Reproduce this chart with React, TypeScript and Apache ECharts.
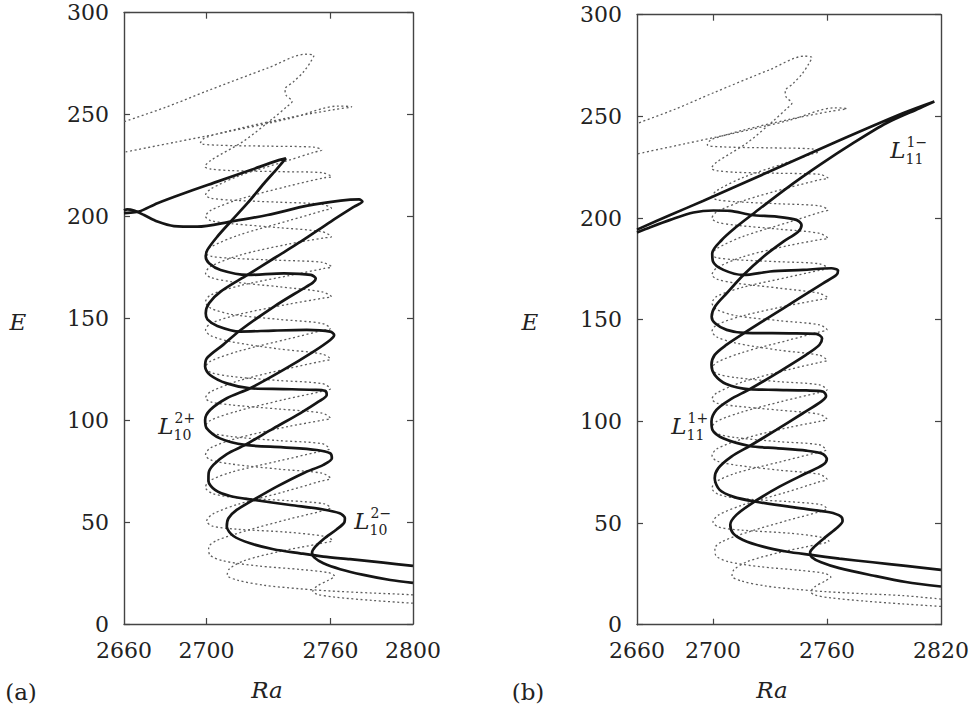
import React, { useEffect, useRef } from "react";
import * as echarts from "echarts";

// ---------- axis data ----------
const xLabelsA = [2660, 2700, 2760, 2800];
const xLabelsB = [2660, 2700, 2760, 2820];
const xTicks = [2700, 2760];
const yMin = 0;
const yMax = 300;
const yStep = 50;

// ---------- solid branches, panel (a) ----------
const solidA_a: number[][] = [
  [2800, 20.2], [2789, 21.6], [2776, 24.1], [2764.7, 26.9], [2756.6, 29.8], [2752.1, 32.7], [2751.1, 35], [2752.6, 37.8],
  [2756.6, 41.6], [2763.1, 46.5], [2766.8, 50], [2767, 52], [2764.5, 54.3], [2756.6, 56.2], [2740.5, 58.4], [2722.7, 60.9],
  [2711.4, 62.8], [2704.1, 65.8], [2700.9, 70.2], [2701, 74], [2703.3, 78.1], [2709.8, 83.4], [2718.7, 87.9], [2732.4, 96.0],
  [2745.3, 103.4], [2754.2, 109.1], [2758.2, 112.4], [2757.4, 114.4], [2751.8, 114.9], [2737.2, 115.3], [2721.1, 115.7],
  [2709.8, 118.1], [2701.7, 122.2], [2699.3, 126.3], [2700.1, 130.4], [2708, 137], [2716.5, 144.3], [2732.7, 155.8],
  [2745.6, 163.9], [2751.5, 167.5], [2752.9, 169.5], [2750.5, 171.3], [2737.5, 172.1], [2719.8, 171.3], [2706.8, 173.7],
  [2701.2, 177], [2699.6, 180.3], [2700.4, 183.6], [2705.2, 190.1], [2711.7, 197.5], [2719.8, 206.5], [2727.9, 216.3],
  [2734.3, 223.6], [2738.4, 228.5], [2734.3, 227.4], [2721.4, 222.8], [2705.2, 217.1], [2689.1, 211.4], [2676.2, 206.5],
  [2667.3, 202.4], [2663.2, 201.9], [2660, 201.6],
];
const solidB_a: number[][] = [
  [2800, 28.5], [2785.7, 30.1], [2769.5, 31.8], [2756.6, 33.1], [2745.3, 34.7], [2732.4, 36.7], [2721.1, 39.6], [2713, 43.2],
  [2709.8, 47.8], [2710.6, 51.9], [2714.6, 56.0], [2722.7, 60.9], [2734, 67.4], [2746.9, 74.0], [2756.6, 78.1], [2760.7, 81.3],
  [2759.9, 83.8], [2753.4, 85.4], [2737.2, 86.7], [2718.7, 87.9], [2706.5, 91.1], [2700.1, 96.0], [2699.3, 100.1],
  [2701.7, 105.0], [2709.8, 110.8], [2721.1, 115.7], [2737.2, 124.7], [2751.8, 133.7], [2759.9, 139.4], [2761.8, 141.8],
  [2759.9, 143.5], [2748.5, 144.3], [2732.4, 144.0], [2716.2, 143.5], [2705.2, 146.3], [2700.4, 149.5], [2699.6, 152.5],
  [2701.2, 157.4], [2706.8, 163.1], [2719.8, 171.3], [2732.7, 179.5], [2745.6, 187.6], [2760.2, 197.5], [2771.5, 204.8],
  [2775.5, 207.3], [2773.9, 208.4], [2765, 207.8], [2748.9, 205.3], [2729.5, 200.7], [2711.7, 197.5], [2695.5, 195],
  [2684.2, 195.3], [2676.2, 197.5], [2669.7, 200.7], [2664.8, 202.9], [2661.6, 203.5], [2660, 202.9],
];

// ---------- solid branches, panel (b) ----------
const solidA_b: number[][] = [
  [2820, 18.8], [2801.5, 21.0], [2784, 24.2], [2766.5, 27.8], [2756.9, 30.7], [2752, 33.2], [2751.1, 35.5], [2753.4, 38.4],
  [2759.5, 43.3], [2765.6, 47.9], [2768.2, 51.0], [2767.4, 53.2], [2761.3, 55.3], [2745.5, 57.3], [2721.9, 60.6],
  [2710.5, 63.0], [2703.5, 66.3], [2700.9, 72.0], [2702.7, 76.9], [2709.7, 82.7], [2719.3, 87.9], [2733.3, 95.8],
  [2747.3, 104.0], [2756.9, 109.7], [2759.5, 112.5], [2757.8, 114.7], [2749, 115.2], [2733.3, 115.5], [2719.3, 115.8],
  [2707, 118.4], [2700.9, 122.9], [2699.2, 127.8], [2700.9, 132.7], [2707, 137.6], [2716.5, 143.5], [2730, 151.5],
  [2744, 159.7], [2757.9, 167.9], [2764.9, 172.0], [2765.8, 174.2], [2762.3, 175.3], [2747.4, 174.5], [2730, 173.7],
  [2716, 172.0], [2705.5, 174.5], [2700, 178.6], [2699.6, 182.7], [2704.6, 189.2], [2712.5, 195.8], [2720.3, 201.5],
  [2738.7, 214.6], [2756.2, 226.1], [2773.7, 236.8], [2791.2, 246.6], [2808.7, 254.0], [2816.5, 257.3], [2799.9, 251.5],
  [2764.9, 237.5], [2730, 223], [2695, 208.5], [2677.5, 201.5], [2660, 194.3],
];
const solidB_b: number[][] = [
  [2820, 27.0], [2801.5, 28.9], [2784, 30.7], [2766.5, 32.5], [2751.6, 34.3], [2738.5, 36.0], [2726.3, 38.4], [2715.8, 41.7],
  [2710.5, 45.0], [2709.1, 49.1], [2712.3, 54.0], [2721.9, 60.6], [2735, 67.9], [2749, 74.5], [2757.8, 78.6], [2759.9, 81.4],
  [2757.8, 84.0], [2749, 85.6], [2733.3, 86.8], [2719.3, 87.9], [2705.3, 91.7], [2699.7, 95.8], [2699.2, 99.9],
  [2701.8, 105.6], [2708.8, 110.6], [2719.3, 115.8], [2735, 124.5], [2749, 132.7], [2756, 137.6], [2757.4, 140.9],
  [2754.3, 143.0], [2740.3, 143.3], [2716.5, 143.5], [2707.2, 145.0], [2701.1, 148.3], [2699.3, 151.5], [2701.1, 156.5],
  [2707.2, 163.0], [2716, 172.0], [2726.5, 181.0], [2737, 188.4], [2744.8, 193.3], [2746.6, 196.6], [2743.9, 199.1],
  [2733.5, 200.7], [2720.3, 201.5], [2709, 203.5], [2700.2, 203.7], [2689.7, 202.7], [2677.5, 199.1], [2667, 195.5],
  [2660, 192.9],
];

// ---------- dotted background branches (shared by both panels) ----------
const dottedA: number[][] = [
  [2820, 9.0], [2800, 10.2], [2780, 11.6], [2762, 13.2], [2753.5, 14.6], [2751.5, 16.2], [2753.5, 18.6], [2759, 21.5],
  [2762, 23.5], [2759, 25.2], [2745, 26.8], [2725, 28.5], [2708, 31], [2701.5, 34], [2701, 37.5], [2705, 41], [2720, 46],
  [2740, 51.5], [2756, 55.5], [2760, 57], [2757, 59], [2740, 60.5], [2715, 62], [2703, 64], [2699.5, 67], [2701, 70],
  [2712, 74.5], [2735, 80], [2754, 84.5], [2759.5, 86], [2756, 88.5], [2735, 90], [2712, 92], [2702, 94], [2699.5, 97],
  [2702, 100], [2715, 104.5], [2737, 110], [2755, 114], [2760, 115.5], [2756, 118], [2735, 119.5], [2712, 121.5],
  [2702, 123.5], [2699.5, 126], [2702, 129], [2716, 134], [2740, 140], [2756, 144], [2760, 145], [2756, 147.5],
  [2735, 149.5], [2712, 152], [2702, 155], [2699.5, 158.1], [2702, 161.5], [2716, 166], [2740, 171], [2757, 174.5],
  [2760.5, 175.3], [2756, 177.5], [2735, 178.5], [2712, 179.5], [2702, 180.5], [2699.5, 182], [2702, 185], [2716, 191],
  [2740, 198], [2757, 203], [2760.5, 204], [2756, 206], [2735, 207], [2712, 208], [2702, 209], [2699.5, 210.5],
  [2702, 213.5], [2716, 220], [2738, 227], [2752, 231.5], [2755.8, 232.6], [2752, 234], [2730, 234.5], [2705, 235],
  [2697, 236], [2699, 238.5], [2715, 243], [2740, 248.5], [2762, 252.5], [2770.3, 253.8], [2764, 254.2], [2740, 248],
  [2710, 241.5], [2685, 236.5], [2660, 231.5],
];
const dottedB: number[][] = [
  [2820, 12.6], [2800, 14.3], [2780, 15.2], [2760, 16.2], [2745, 17.3], [2728, 19], [2715, 21.5], [2710, 24], [2711, 27],
  [2718, 31], [2735, 35.5], [2755, 39.5], [2761, 41], [2757, 43], [2740, 45], [2715, 46.5], [2703, 48], [2700, 50.5],
  [2703, 54], [2716, 59], [2738, 65], [2755, 70], [2760, 71.5], [2756, 74], [2735, 76], [2712, 78.5], [2702, 80.5],
  [2699.5, 83], [2702, 86.5], [2716, 91.5], [2740, 97], [2756, 100], [2760, 101], [2756, 103.5], [2735, 105.5],
  [2712, 107.5], [2702, 109], [2699.5, 111], [2702, 114], [2716, 119.5], [2740, 125.5], [2756, 129], [2760, 130],
  [2756, 132.5], [2735, 135], [2712, 138.5], [2702, 141.5], [2699.5, 144.3], [2702, 147.5], [2716, 152], [2740, 157],
  [2757, 160], [2760.5, 160.6], [2756, 163], [2735, 165.5], [2712, 168], [2702, 170], [2699.5, 172.1], [2702, 175.5],
  [2716, 181], [2740, 186.5], [2757, 189.5], [2760.5, 190], [2756, 192.5], [2735, 194.5], [2712, 196.5], [2702, 198],
  [2699.5, 200], [2702, 203], [2716, 208.5], [2740, 215], [2757, 219], [2760.6, 219.5], [2756, 221.5], [2735, 222],
  [2712, 222.5], [2702, 223.3], [2699.2, 224.4], [2702, 227.5], [2718, 237], [2732, 248], [2739, 254], [2741.5, 256.5],
  [2738.5, 259.5], [2738, 262.5], [2742, 266], [2747, 271], [2750.5, 276], [2752, 279], [2748, 279.6], [2730, 273],
  [2700, 261.5], [2680, 253.5], [2660, 246.5],
];

const FAMILY = "DejaVu Serif";
const INK = "#222";
const FRAME = "#444";

function xAxes(gridIndex: number, max: number, labels: number[]) {
  const common = {
    gridIndex,
    type: "value",
    min: 2660,
    max,
    splitLine: { show: false },
    axisLine: { show: true, onZero: false, lineStyle: { color: FRAME, width: 1.4 } },
    axisTick: { show: true, inside: true, length: 6, customValues: xTicks, lineStyle: { color: FRAME, width: 1.2 } },
  };
  return [
    {
      ...common,
      position: "bottom",
      axisLabel: {
        show: true,
        customValues: labels,
        formatter: (v: number) => String(v),
        margin: 15,
        fontSize: 22,
        fontFamily: FAMILY,
        color: INK,
      },
    },
    { ...common, position: "top", axisLabel: { show: false } },
  ];
}

function yAxes(gridIndex: number) {
  const common = {
    gridIndex,
    type: "value",
    min: yMin,
    max: yMax,
    interval: yStep,
    splitLine: { show: false },
    axisLine: { show: true, onZero: false, lineStyle: { color: FRAME, width: 1.4 } },
    axisTick: { show: true, inside: true, length: 6, lineStyle: { color: FRAME, width: 1.2 } },
  };
  return [
    {
      ...common,
      position: "left",
      axisLabel: {
        show: true,
        margin: 15,
        formatter: (v: number) => String(v),
        fontSize: 22,
        fontFamily: FAMILY,
        color: INK,
      },
    },
    { ...common, position: "right", axisLabel: { show: false } },
  ];
}

function lineSeries(data: number[][], xi: number, yi: number, solid: boolean) {
  return {
    type: "line",
    xAxisIndex: xi,
    yAxisIndex: yi,
    data,
    symbol: "none",
    showSymbol: false,
    smooth: 0.3,
    clip: true,
    z: solid ? 5 : 2,
    silent: true,
    lineStyle: solid
      ? { color: "#151515", width: 2.7, type: "solid" }
      : { color: "#5e5e5e", width: 1.3, type: [2, 2.6] },
  };
}

function txt(x: number, y: number, text: string, size: number, italic: boolean, align = "center") {
  return {
    type: "text",
    x,
    y,
    silent: true,
    style: {
      text,
      fontFamily: FAMILY,
      fontSize: size,
      fontStyle: italic ? "italic" : "normal",
      fill: INK,
      align,
      verticalAlign: "middle",
      textAlign: align,
      textVerticalAlign: "middle",
    },
  };
}

function branchLabel(lx: number, ly: number, sup: string, sub: string) {
  // lx = center of the L, ly = vertical center of the L
  return [
    txt(lx, ly, "L", 23, true),
    txt(lx + 8.5, ly - 8.5, sup, 14, false, "left"),
    txt(lx + 7.5, ly + 9, sub, 14, false, "left"),
  ];
}

export default function App() {
  const ref = useRef<HTMLDivElement>(null);

  useEffect(() => {
    if (!ref.current) return;
    const chart = echarts.init(ref.current, undefined, { renderer: "svg" });
    const option: any = {
      animation: false,
      backgroundColor: "#ffffff",
      textStyle: { fontFamily: FAMILY },
      grid: [
        { left: 124, top: 12.7, width: 289, height: 611.3, containLabel: false },
        { left: 637, top: 14.7, width: 305, height: 610, containLabel: false },
      ],
      xAxis: [...xAxes(0, 2800, xLabelsA), ...xAxes(1, 2820, xLabelsB)],
      yAxis: [...yAxes(0), ...yAxes(1)],
      series: [
        lineSeries(dottedA, 0, 0, false),
        lineSeries(dottedB, 0, 0, false),
        lineSeries(solidA_a, 0, 0, true),
        lineSeries(solidB_a, 0, 0, true),
        lineSeries(dottedA, 2, 2, false),
        lineSeries(dottedB, 2, 2, false),
        lineSeries(solidA_b, 2, 2, true),
        lineSeries(solidB_b, 2, 2, true),
      ],
      graphic: [
        txt(18, 322, "E", 23, true),
        txt(530, 322, "E", 23, true),
        txt(267, 690, "Ra", 23, true),
        txt(772, 690, "Ra", 23, true),
        txt(21, 692, "(a)", 23, false),
        txt(528, 692, "(b)", 23, false),
        ...branchLabel(166, 426, "2+", "10"),
        ...branchLabel(362, 521, "2\u2212", "10"),
        ...branchLabel(898, 150, "1\u2212", "11"),
        ...branchLabel(679, 426, "1+", "11"),
      ],
    };
    chart.setOption(option);
    return () => chart.dispose();
  }, []);

  return (
    <div
      ref={ref}
      style={{ position: "fixed", left: 0, top: 0, width: 972, height: 708, background: "#fff" }}
    />
  );
}
